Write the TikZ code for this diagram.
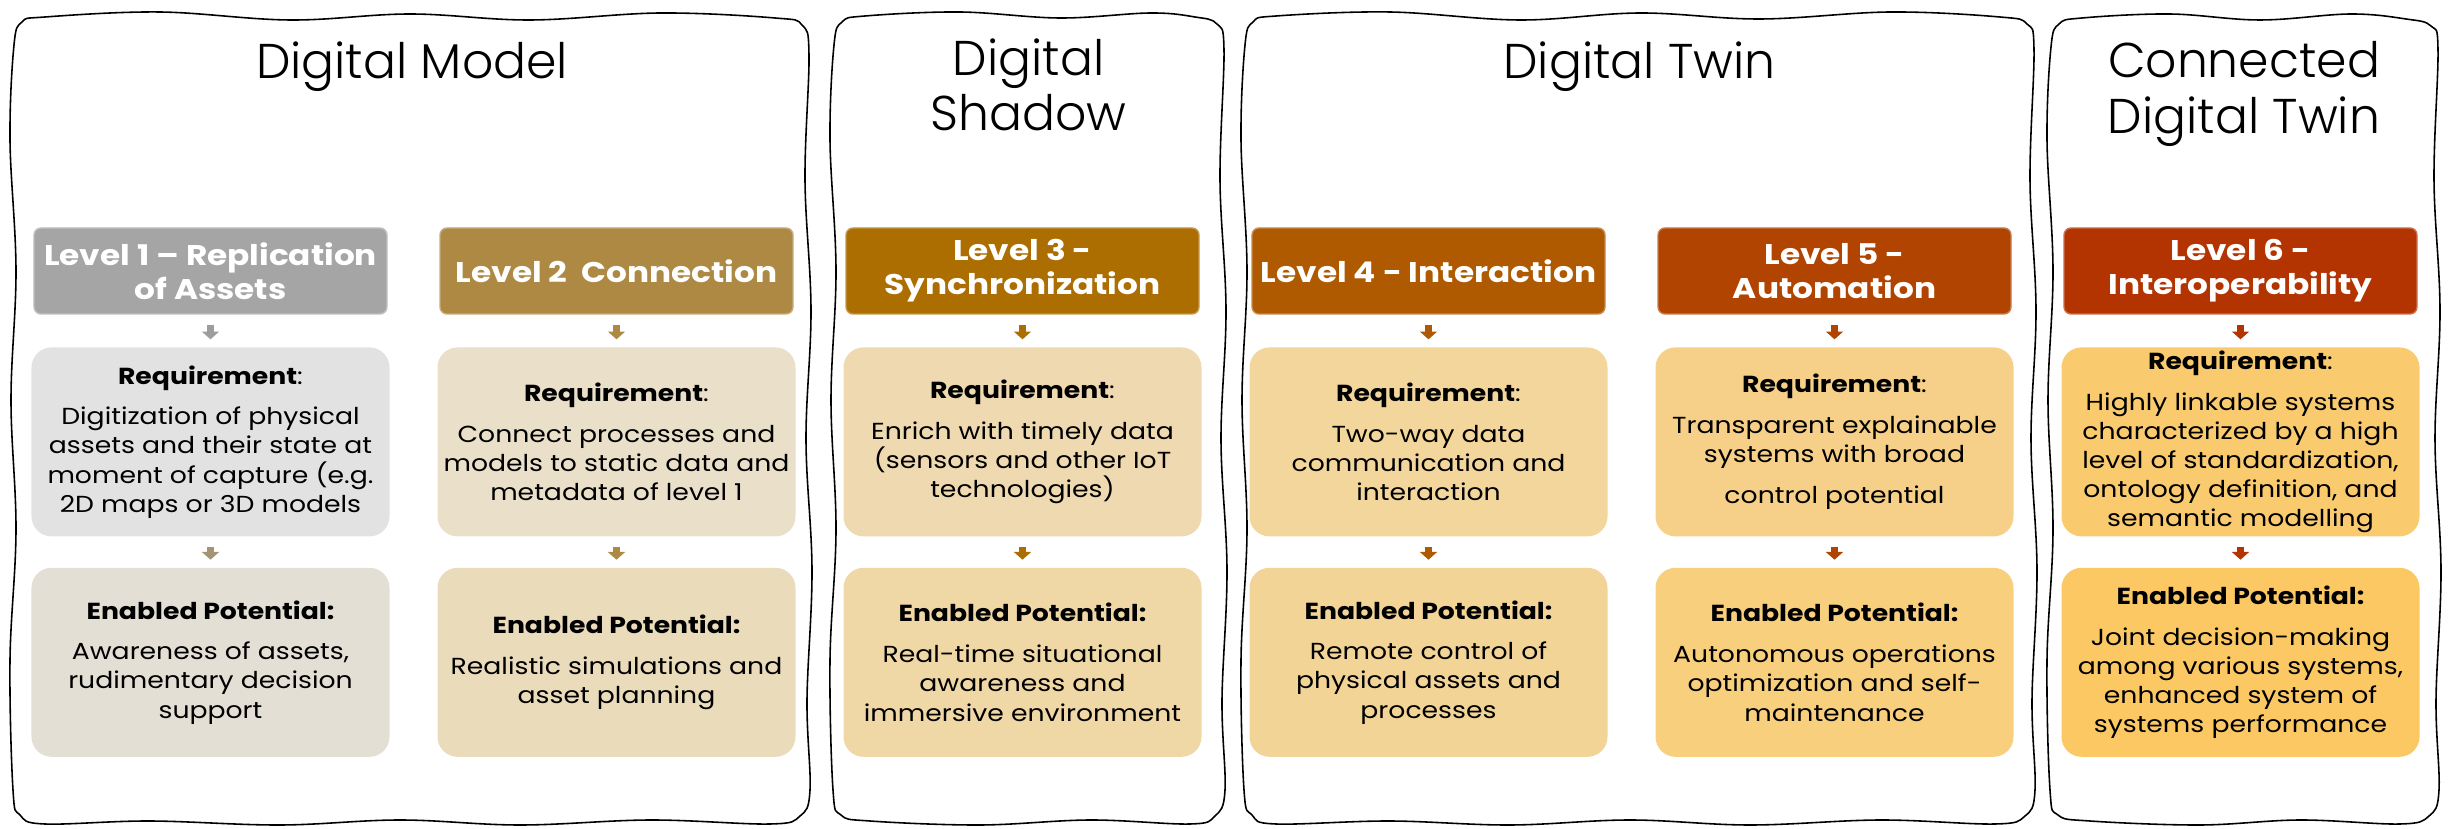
\documentclass[tikz,border=0pt]{standalone}
\usepackage{fontspec}
\setmainfont{Poppins}[FakeStretch=1.15]
\newfontfamily\titlefont{Poppins Light}
\usetikzlibrary{arrows.meta,positioning}

% level colours: header, requirement box, potential box
\definecolor{lvlone}{HTML}{A5A5A5}
\definecolor{reqone}{HTML}{E2E2E2}
\definecolor{potone}{HTML}{E4DFD4}
\definecolor{arrone}{HTML}{A39574}
\definecolor{lvltwo}{HTML}{AD8944}
\definecolor{reqtwo}{HTML}{EADFC9}
\definecolor{pottwo}{HTML}{EADBBB}
\definecolor{lvlthree}{HTML}{AC6E00}
\definecolor{reqthree}{HTML}{EED9B1}
\definecolor{potthree}{HTML}{F0D7A6}
\definecolor{lvlfour}{HTML}{AF5A00}
\definecolor{reqfour}{HTML}{F3D69B}
\definecolor{potfour}{HTML}{F3D497}
\definecolor{lvlfive}{HTML}{B04400}
\definecolor{reqfive}{HTML}{F6D088}
\definecolor{potfive}{HTML}{F7CF7D}
\definecolor{lvlsix}{HTML}{B33400}
\definecolor{reqsix}{HTML}{F9CA6E}
\definecolor{potsix}{HTML}{FBC864}

\newcommand\lvltext{\fontsize{8.1pt}{9.6pt}\selectfont\bfseries}
\newcommand\boxtext{\fontsize{6.6pt}{8.3pt}\selectfont}

\tikzset{
  frame/.style={draw, line width=0.45pt},
  title/.style={font=\titlefont\fontsize{13.9pt}{15.8pt}\selectfont,
    align=center, inner sep=0pt},
  lvl/.style={fill=#1, draw=#1!70!white, line width=0.4pt, rounded corners=2pt,
    minimum width=3.53cm, minimum height=0.86cm, inner sep=0pt,
    text=white, font=\lvltext, align=center},
  note/.style={fill=#1, rounded corners=0.2cm, minimum width=3.58cm,
    minimum height=1.89cm, inner sep=0pt, font=\boxtext, align=center},
  flow/.style={draw=#1, line width=2.2pt, -{Triangle[width=4.8pt,length=2.2pt]},
    shorten <=2.8pt, shorten >=2.1pt},
}

\begin{document}
\begin{tikzpicture}
  \useasboundingbox (0,0) rectangle (24.5,-8.29);

  % hand drawn stage frames
  \draw[frame] plot[smooth cycle, tension=0.6] coordinates {
    (0.45,-0.17) (1.6,-0.12) (2.9,-0.2) (4.1,-0.14) (5.3,-0.2) (6.6,-0.13) (7.75,-0.18)
    (8.02,-0.25)
    (8.09,-0.55) (8.05,-1.8) (8.11,-3.1) (8.06,-4.4) (8.12,-5.7) (8.07,-7.0) (8.1,-7.9)
    (8.0,-8.16)
    (7.7,-8.24) (6.5,-8.2) (5.2,-8.25) (4.0,-8.2) (2.8,-8.25) (1.5,-8.21) (0.45,-8.24)
    (0.2,-8.15)
    (0.13,-7.9) (0.1,-6.6) (0.16,-5.3) (0.11,-4.0) (0.16,-2.7) (0.1,-1.4) (0.14,-0.45)
    (0.22,-0.22)};
  \draw[frame] plot[smooth cycle, tension=0.6] coordinates {
    (8.65,-0.16) (9.6,-0.12) (10.6,-0.18) (11.5,-0.13) (11.95,-0.17)
    (12.17,-0.24)
    (12.24,-0.5) (12.2,-1.8) (12.26,-3.1) (12.21,-4.4) (12.27,-5.7) (12.22,-7.0) (12.25,-7.9)
    (12.15,-8.16)
    (11.9,-8.24) (10.9,-8.2) (9.8,-8.25) (8.7,-8.21)
    (8.41,-8.15)
    (8.33,-7.9) (8.3,-6.6) (8.36,-5.3) (8.31,-4.0) (8.36,-2.7) (8.3,-1.4) (8.34,-0.45)
    (8.42,-0.22)};
  \draw[frame] plot[smooth cycle, tension=0.6] coordinates {
    (12.76,-0.16) (13.9,-0.12) (15.2,-0.2) (16.4,-0.13) (17.6,-0.19) (18.9,-0.12) (20.0,-0.17)
    (20.27,-0.24)
    (20.34,-0.5) (20.3,-1.8) (20.36,-3.1) (20.31,-4.4) (20.37,-5.7) (20.32,-7.0) (20.35,-7.9)
    (20.25,-8.16)
    (19.95,-8.24) (18.8,-8.2) (17.5,-8.25) (16.3,-8.2) (15.1,-8.25) (13.9,-8.21) (12.76,-8.24)
    (12.52,-8.15)
    (12.44,-7.9) (12.41,-6.6) (12.47,-5.3) (12.42,-4.0) (12.47,-2.7) (12.41,-1.4) (12.45,-0.45)
    (12.53,-0.22)};
  \draw[frame] plot[smooth cycle, tension=0.6] coordinates {
    (20.82,-0.18) (21.7,-0.14) (22.6,-0.2) (23.5,-0.14) (24.06,-0.19)
    (24.31,-0.26)
    (24.38,-0.5) (24.34,-1.8) (24.4,-3.1) (24.35,-4.4) (24.41,-5.7) (24.36,-7.0) (24.39,-7.9)
    (24.29,-8.16)
    (24.0,-8.24) (23.0,-8.2) (22.0,-8.25) (20.9,-8.21)
    (20.58,-8.15)
    (20.5,-7.9) (20.47,-6.6) (20.53,-5.3) (20.48,-4.0) (20.53,-2.7) (20.47,-1.4) (20.51,-0.47)
    (20.59,-0.24)};

  \node[title, anchor=base] (dm) at (4.12,-0.79) {Digital Model};
  \node[title, anchor=north] (ds) at (10.285,-0.38) {Digital\\Shadow};
  \node[title, anchor=base] (dt) at (16.395,-0.79) {Digital Twin};
  \node[title, anchor=north] (cdt) at (22.44,-0.41) {Connected\\Digital Twin};

  % level headers
  \node[lvl=lvlone] (lvl1) at (2.105,-2.71) {Level 1 -- Replication\\of Assets};
  \node[lvl=lvltwo] (lvl2) at (6.165,-2.71) {Level 2~ Connection};
  \node[lvl=lvlthree] (lvl3) at (10.225,-2.71) {Level 3 -\\Synchronization};
  \node[lvl=lvlfour] (lvl4) at (14.285,-2.71) {Level 4 - Interaction};
  \node[lvl=lvlfive] (lvl5) at (18.345,-2.71) {Level 5 -\\Automation};
  \node[lvl=lvlsix] (lvl6) at (22.405,-2.71) {Level 6 -\\Interoperability};

  % requirements
  \node[note=reqone, below=0.32cm of lvl1] (req1) {\textbf{Requirement}:\\[3.3pt]
    Digitization of physical\\assets and their state at\\moment of capture (e.g.\\2D maps or 3D models};
  \node[note=reqtwo, below=0.32cm of lvl2] (req2) {\textbf{Requirement}:\\[3.3pt]
    Connect processes and\\models to static data and\\metadata of level 1};
  \node[note=reqthree, below=0.32cm of lvl3] (req3) {\textbf{Requirement}:\\[3.3pt]
    Enrich with timely data\\(sensors and other IoT\\technologies)};
  \node[note=reqfour, below=0.32cm of lvl4] (req4) {\textbf{Requirement}:\\[3.3pt]
    Two-way data\\communication and\\interaction};
  \node[note=reqfive, below=0.32cm of lvl5] (req5) {\textbf{Requirement}:\\[3.3pt]
    Transparent explainable\\systems with broad\\[3.4pt]control potential};
  \node[note=reqsix, below=0.32cm of lvl6] (req6) {\textbf{Requirement}:\\[3.3pt]
    Highly linkable systems\\characterized by a high\\level of standardization,\\ontology definition, and\\semantic modelling};

  % enabled potential
  \node[note=potone, below=0.30cm of req1] (pot1) {\textbf{Enabled Potential:}\\[3.3pt]
    Awareness of assets,\\rudimentary decision\\support};
  \node[note=pottwo, below=0.30cm of req2] (pot2) {\textbf{Enabled Potential:}\\[3.3pt]
    Realistic simulations and\\asset planning};
  \node[note=potthree, below=0.30cm of req3] (pot3) {\textbf{Enabled Potential:}\\[3.3pt]
    Real-time situational\\awareness and\\immersive environment};
  \node[note=potfour, below=0.30cm of req4] (pot4) {\textbf{Enabled Potential:}\\[3.3pt]
    Remote control of\\physical assets and\\processes};
  \node[note=potfive, below=0.30cm of req5] (pot5) {\textbf{Enabled Potential:}\\[3.3pt]
    Autonomous operations\\optimization and self-\\maintenance};
  \node[note=potsix, below=0.30cm of req6] (pot6) {\textbf{Enabled Potential:}\\[3.3pt]
    Joint decision-making\\among various systems,\\enhanced system of\\systems performance};

  % small arrows between the boxes
  \draw[flow=lvlone!95!black] (lvl1) -- (req1);
  \draw[flow=arrone] (req1) -- (pot1);
  \draw[flow=lvltwo] (lvl2) -- (req2);
  \draw[flow=lvltwo] (req2) -- (pot2);
  \draw[flow=lvlthree] (lvl3) -- (req3);
  \draw[flow=lvlthree] (req3) -- (pot3);
  \draw[flow=lvlfour] (lvl4) -- (req4);
  \draw[flow=lvlfour] (req4) -- (pot4);
  \draw[flow=lvlfive] (lvl5) -- (req5);
  \draw[flow=lvlfive] (req5) -- (pot5);
  \draw[flow=lvlsix] (lvl6) -- (req6);
  \draw[flow=lvlsix] (req6) -- (pot6);
\end{tikzpicture}
\end{document}
